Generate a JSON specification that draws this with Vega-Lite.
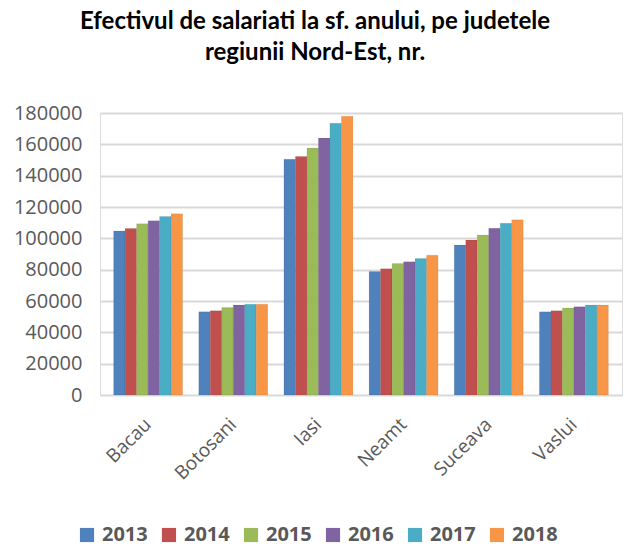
{
  "$schema": "https://vega.github.io/schema/vega-lite/v6.json",
  "autosize": {"type": "none"},
  "padding": {"left": 100, "top": 113, "right": 8, "bottom": 152},
  "width": 522,
  "height": 282,
  "background": "white",
  "title": {
    "text": ["Efectivul de salariati la sf. anului, pe judetele", "regiunii Nord-Est, nr."],
    "anchor": "middle",
    "dx": -46,
    "offset": 38,
    "font": "Lato",
    "fontSize": 24,
    "fontWeight": "bold",
    "color": "#000000",
    "lineHeight": 31
  },
  "data": {
    "values": [
      {"judet": "Bacau", "an": "2013", "salariati": 104700},
      {"judet": "Bacau", "an": "2014", "salariati": 106300},
      {"judet": "Bacau", "an": "2015", "salariati": 109300},
      {"judet": "Bacau", "an": "2016", "salariati": 111200},
      {"judet": "Bacau", "an": "2017", "salariati": 114000},
      {"judet": "Bacau", "an": "2018", "salariati": 115700},
      {"judet": "Botosani", "an": "2013", "salariati": 53100},
      {"judet": "Botosani", "an": "2014", "salariati": 53800},
      {"judet": "Botosani", "an": "2015", "salariati": 55900},
      {"judet": "Botosani", "an": "2016", "salariati": 57400},
      {"judet": "Botosani", "an": "2017", "salariati": 58000},
      {"judet": "Botosani", "an": "2018", "salariati": 58000},
      {"judet": "Iasi", "an": "2013", "salariati": 150500},
      {"judet": "Iasi", "an": "2014", "salariati": 152300},
      {"judet": "Iasi", "an": "2015", "salariati": 157600},
      {"judet": "Iasi", "an": "2016", "salariati": 164000},
      {"judet": "Iasi", "an": "2017", "salariati": 173500},
      {"judet": "Iasi", "an": "2018", "salariati": 177900},
      {"judet": "Neamt", "an": "2013", "salariati": 78900},
      {"judet": "Neamt", "an": "2014", "salariati": 80600},
      {"judet": "Neamt", "an": "2015", "salariati": 83900},
      {"judet": "Neamt", "an": "2016", "salariati": 85000},
      {"judet": "Neamt", "an": "2017", "salariati": 87100},
      {"judet": "Neamt", "an": "2018", "salariati": 89200},
      {"judet": "Suceava", "an": "2013", "salariati": 95700},
      {"judet": "Suceava", "an": "2014", "salariati": 98900},
      {"judet": "Suceava", "an": "2015", "salariati": 102100},
      {"judet": "Suceava", "an": "2016", "salariati": 106500},
      {"judet": "Suceava", "an": "2017", "salariati": 109700},
      {"judet": "Suceava", "an": "2018", "salariati": 111800},
      {"judet": "Vaslui", "an": "2013", "salariati": 53100},
      {"judet": "Vaslui", "an": "2014", "salariati": 53800},
      {"judet": "Vaslui", "an": "2015", "salariati": 55500},
      {"judet": "Vaslui", "an": "2016", "salariati": 56300},
      {"judet": "Vaslui", "an": "2017", "salariati": 57400},
      {"judet": "Vaslui", "an": "2018", "salariati": 57400}
    ]
  },
  "mark": {"type": "bar", "stroke": "#00000022", "strokeWidth": 0.5},
  "encoding": {
    "x": {
      "field": "judet",
      "type": "nominal",
      "sort": null,
      "title": null,
      "scale": {"paddingInner": 0.19, "paddingOuter": 0.16},
      "axis": {
        "labelAngle": -45,
        "labelAlign": "right",
        "labelBaseline": "middle",
        "labelPadding": 26,
        "labelFont": "Open Sans",
        "labelFontSize": 19,
        "labelColor": "#595959",
        "ticks": false,
        "domain": false,
        "grid": false
      }
    },
    "xOffset": {"field": "an", "type": "nominal"},
    "y": {
      "field": "salariati",
      "type": "quantitative",
      "title": null,
      "scale": {"domain": [0, 180000], "nice": false},
      "axis": {
        "values": [0, 20000, 40000, 60000, 80000, 100000, 120000, 140000, 160000, 180000],
        "format": "d",
        "labelFont": "Open Sans",
        "labelFontSize": 20,
        "labelColor": "#595959",
        "labelPadding": 18,
        "ticks": false,
        "domain": false,
        "gridColor": "#d9d9d9",
        "gridWidth": 2
      }
    },
    "color": {
      "field": "an",
      "type": "nominal",
      "scale": {
        "domain": ["2013", "2014", "2015", "2016", "2017", "2018"],
        "range": ["#4f81bd", "#c0504d", "#9bbb59", "#8064a2", "#4bacc6", "#f79646"]
      },
      "legend": {
        "title": null,
        "orient": "none",
        "direction": "horizontal",
        "legendX": -23,
        "legendY": 412,
        "symbolType": "square",
        "symbolSize": 200,
        "symbolStrokeWidth": 0,
        "labelFont": "Open Sans",
        "labelFontSize": 20,
        "labelFontWeight": "bold",
        "labelColor": "#595959",
        "columnPadding": 11,
        "labelOffset": 5
      }
    }
  }
}
